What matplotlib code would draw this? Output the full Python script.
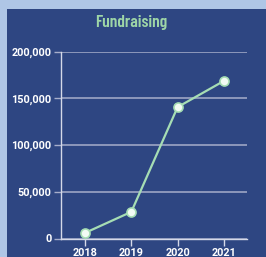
import matplotlib.pyplot as plt
from matplotlib.patches import Rectangle
from matplotlib.ticker import FuncFormatter

years = [2018, 2019, 2020, 2021]
raised = [6000, 28500, 140500, 168500]

panel_color = "#2E4682"
border_color = "#AFC6E6"
line_color = "#A6DDB4"
grid_color = "#A7AECB"

fig = plt.figure(figsize=(2.66, 2.57), dpi=100, facecolor=border_color)
fig.patches.append(Rectangle((7 / 266, 0), 1, 1 - 9 / 257, transform=fig.transFigure,
                             facecolor=panel_color, edgecolor="none", zorder=-1))

ax = fig.add_axes([61 / 266, 1 - 238.5 / 257, 186 / 266, 187 / 257])
ax.set_facecolor("none")

ax.plot(years, raised, color=line_color, linewidth=1.6, marker="o", markersize=6.5,
        markerfacecolor="#F2FBF4", markeredgecolor=line_color, markeredgewidth=1.2, zorder=3)

ax.set_xlim(2017.48, 2021.5)
ax.set_ylim(0, 200000)
ax.set_xticks(years)
ax.set_yticks(range(0, 200001, 50000))
ax.yaxis.set_major_formatter(FuncFormatter(lambda v, p: f"{int(v):,}"))
ax.grid(axis="y", color=grid_color, linewidth=1.1)
ax.set_axisbelow(True)

for s in ["top", "right"]:
    ax.spines[s].set_visible(False)
for s in ["left", "bottom"]:
    ax.spines[s].set_color("#D5D9E8")
    ax.spines[s].set_linewidth(1.0)

ax.tick_params(axis="y", length=5, width=1.0, color=grid_color, pad=2,
               labelcolor="white", labelsize=7.8)
ax.tick_params(axis="x", length=5, width=1.0, color="#D5D9E8", pad=1.5,
               labelcolor="white", labelsize=7.8)
for lab in ax.get_xticklabels() + ax.get_yticklabels():
    lab.set_fontweight("bold")
    lab.set_fontfamily("Roboto")

fig.text(131 / 266, 1 - 22 / 257, "Fundraising", ha="center", va="center",
         color="#9ED6A7", fontsize=12.5, fontweight=600,
         fontfamily=["Barlow Condensed", "Oswald", "DejaVu Sans"])

fig.savefig("out.png", dpi=100, facecolor=fig.get_facecolor())
